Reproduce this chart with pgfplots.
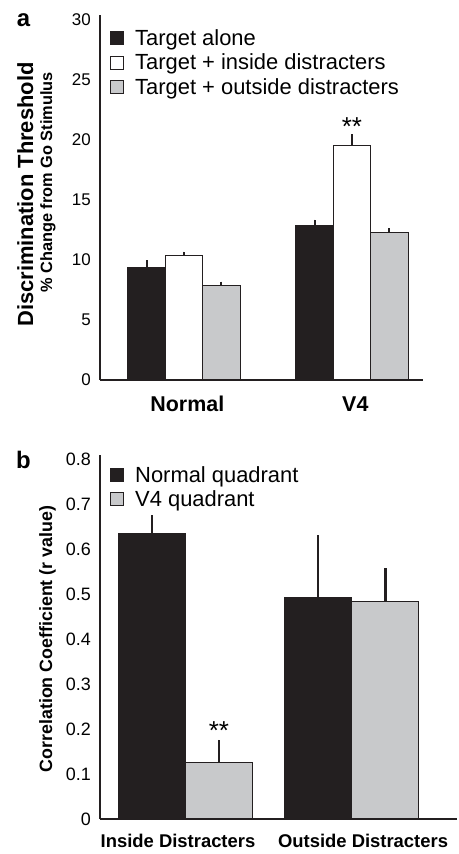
\documentclass[border=0pt]{standalone}
\usepackage{pgfplots}
\pgfplotsset{compat=1.18}
\usepackage{fontspec}
\setmainfont{Liberation Sans}
\definecolor{barblack}{RGB}{35,31,32}
\definecolor{bargray}{RGB}{200,201,203}
\begin{document}
\begin{tikzpicture}[x=1bp,y=1bp]
\useasboundingbox (0,0) rectangle (459,854);
\pgfplotsset{
  myaxis/.style={
    scale only axis, anchor=south west,
    axis x line*=bottom, axis y line*=left,
    axis line style={-, line width=1.8bp, color=barblack},
    major tick length=0pt, enlargelimits=false, clip=false,
    ybar,
    /pgf/number format/assume math mode=true,
    legend cell align=left,
    legend image code/.code={\draw[line width=1bp,##1] (0bp,-6.5bp) rectangle (13bp,6.5bp);},
  },
  mybar/.style={draw=barblack, line width=1bp,
    error bars/y dir=plus, error bars/y explicit, error bars/error mark=none,
    error bars/error bar style={line width=#1, color=barblack}},
}
% ---------------- panel a ----------------
\begin{axis}[myaxis, at={(100bp,474bp)}, width=323bp, height=364.8bp,
  xmin=-0.5, xmax=1.423, ymin=0, ymax=30.4,
  ytick={0,5,10,15,20,25,30},
  xtick={0.02,1.02}, xticklabels={Normal,V4},
  bar width=0.223,
  yticklabel style={font=\fontsize{17}{17}\selectfont, anchor=east, inner sep=0pt, xshift=-9bp},
  xticklabel style={font=\fontsize{21.5}{21.5}\selectfont\bfseries, anchor=base, inner sep=0pt, yshift=-32bp},
  legend style={at={(0.031,0.966)}, anchor=north west, draw=none, fill=none,
    inner sep=0pt, column sep=11bp, row sep=3.5bp,
    font=\fontsize{22}{22}\selectfont, nodes={inner sep=0pt, text height=17.5bp, text depth=3.5bp}},
]
\addplot[mybar=2bp, fill=barblack, bar shift=-0.223] coordinates {(0,9.39) +- (0,0.6) (1,12.86) +- (0,0.5)};
\addplot[mybar=2bp, fill=white, bar shift=0] coordinates {(0,10.39) +- (0,0.3) (1,19.53) +- (0,0.95)};
\addplot[mybar=2bp, fill=bargray, bar shift=0.223] coordinates {(0,7.89) +- (0,0.3) (1,12.25) +- (0,0.4)};
\legend{Target alone, Target + inside distracters, Target + outside distracters}
\node[anchor=base, font=\fontsize{26}{26}\selectfont] at (axis cs:1,20.4) {**};
\end{axis}
% ---------------- panel b ----------------
\begin{axis}[myaxis, at={(100bp,35bp)}, width=357bp, height=364.5bp,
  xmin=-0.514, xmax=1.633, ymin=0, ymax=0.81,
  ytick={0,0.1,0.2,0.3,0.4,0.5,0.6,0.7,0.8},
  /pgf/number format/fixed, /pgf/number format/precision=1,
  xtick={-0.045,1.068}, xticklabels={Inside Distracters,Outside Distracters},
  bar width=0.403,
  yticklabel style={font=\fontsize{18}{18}\selectfont, anchor=east, inner sep=0pt, xshift=-9bp},
  xticklabel style={font=\fontsize{18.5}{18.5}\selectfont\bfseries, anchor=base, inner sep=0pt, yshift=-29bp},
  legend style={at={(0.028,0.9726)}, anchor=north west, draw=none, fill=none,
    inner sep=0pt, column sep=11bp, row sep=3bp,
    font=\fontsize{22}{22}\selectfont, nodes={inner sep=0pt, text height=17.5bp, text depth=3.5bp}},
]
\addplot[mybar=2.5bp, fill=barblack, bar shift=-0.2015] coordinates {(0,0.635) +- (0,0.04) (1,0.493) +- (0,0.138)};
\addplot[mybar=2.5bp, fill=bargray, bar shift=0.2015] coordinates {(0,0.125) +- (0,0.051) (1,0.483) +- (0,0.074)};
\legend{Normal quadrant, V4 quadrant}
\node[anchor=base, font=\fontsize{26}{26}\selectfont] at (axis cs:0.2015,0.176) {**};
\end{axis}
% ---------------- labels ----------------
\node[anchor=base, font=\fontsize{24}{24}\selectfont\bfseries, inner sep=0pt] at (23.5,827) {a};
\node[anchor=base, font=\fontsize{24}{24}\selectfont\bfseries, inner sep=0pt] at (23.5,385) {b};
\node[rotate=90, anchor=base, inner sep=0pt, font=\fontsize{22}{22}\selectfont\bfseries] at (33,659.5) {Discrimination Threshold};
\node[rotate=90, anchor=base, inner sep=0pt, font=\fontsize{16.4}{16.4}\selectfont\bfseries] at (52,671.5) {\% Change from Go Stimulus};
\node[rotate=90, anchor=base, inner sep=0pt, font=\fontsize{17.9}{17.9}\selectfont\bfseries] at (52,215) {Correlation Coefficient (r value)};
\end{tikzpicture}
\end{document}
